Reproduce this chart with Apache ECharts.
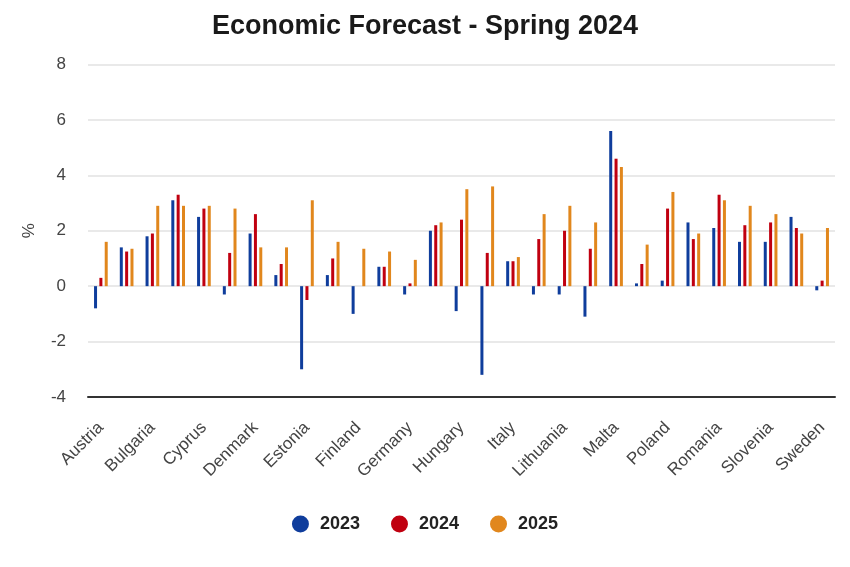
<!DOCTYPE html>
<html>
<head>
<meta charset="utf-8">
<script src="https://cdn.jsdelivr.net/npm/echarts@6/dist/echarts.min.js"></script>
<style>
  html, body { margin: 0; padding: 0; background: #fff; }
  #main { width: 850px; height: 567px; }
</style>
</head>
<body>
<div id="main"></div>
<script>
var countries = ['Austria', 'Belgium', 'Bulgaria', 'Croatia', 'Cyprus', 'Czechia', 'Denmark', 'EA',
  'Estonia', 'EU', 'Finland', 'France', 'Germany', 'Greece', 'Hungary', 'Ireland', 'Italy', 'Latvia',
  'Lithuania', 'Luxembourg', 'Malta', 'Netherlands', 'Poland', 'Portugal', 'Romania', 'Slovakia',
  'Slovenia', 'Spain', 'Sweden'];
var y2023 = [-0.8, 1.4, 1.8, 3.1, 2.5, -0.3, 1.9, 0.4, -3.0, 0.4, -1.0, 0.7, -0.3, 2.0, -0.9, -3.2,
  0.9, -0.3, -0.3, -1.1, 5.6, 0.1, 0.2, 2.3, 2.1, 1.6, 1.6, 2.5, -0.15];
var y2024 = [0.3, 1.25, 1.9, 3.3, 2.8, 1.2, 2.6, 0.8, -0.5, 1.0, 0.0, 0.7, 0.1, 2.2, 2.4, 1.2,
  0.9, 1.7, 2.0, 1.35, 4.6, 0.8, 2.8, 1.7, 3.3, 2.2, 2.3, 2.1, 0.2];
var y2025 = [1.6, 1.35, 2.9, 2.9, 2.9, 2.8, 1.4, 1.4, 3.1, 1.6, 1.35, 1.25, 0.95, 2.3, 3.5, 3.6,
  1.05, 2.6, 2.9, 2.3, 4.3, 1.5, 3.4, 1.9, 3.1, 2.9, 2.6, 1.9, 2.1];
var years = ['2023', '2024', '2025'];
var colors = ['#0f3d9c', '#c00010', '#e1871d'];

var chart = echarts.init(document.getElementById('main'));

function bars(name, data, color) {
  return {
    name: name,
    type: 'bar',
    data: data,
    barWidth: 3,
    barGap: '78%',
    itemStyle: { color: color }
  };
}

chart.setOption({
  animation: false,
  color: colors,
  textStyle: { fontFamily: 'Liberation Sans, Arial, sans-serif' },
  title: {
    text: 'Economic Forecast - Spring 2024',
    left: 'center',
    top: 8,
    textStyle: { fontSize: 27, fontWeight: 'bold', color: '#1a1a1a' }
  },
  legend: {
    data: years,
    bottom: 29,
    left: 'center',
    icon: 'circle',
    itemWidth: 17,
    itemHeight: 17,
    itemGap: 31,
    textStyle: { fontSize: 18, fontWeight: 'bold', color: '#222', padding: [0, 0, 0, 6] }
  },
  grid: { left: 88, right: 15, top: 64.5, bottom: 170 },
  xAxis: {
    type: 'category',
    data: countries,
    axisLine: { onZero: false, lineStyle: { color: '#333', width: 2 } },
    axisTick: { show: false },
    axisLabel: { interval: 1, rotate: 45, fontSize: 17, color: '#444', margin: 28 }
  },
  yAxis: {
    type: 'value',
    min: -4,
    max: 8,
    interval: 2,
    name: '%',
    nameLocation: 'middle',
    nameGap: 50,
    nameTextStyle: { fontSize: 17, color: '#444' },
    axisLine: { show: false },
    axisTick: { show: false },
    axisLabel: { fontSize: 17, color: '#444', margin: 22 },
    splitLine: { lineStyle: { color: '#e2e2e2', width: 1.5 } }
  },
  series: [
    bars(years[0], y2023, colors[0]),
    bars(years[1], y2024, colors[1]),
    bars(years[2], y2025, colors[2])
  ]
});
</script>
</body>
</html>
